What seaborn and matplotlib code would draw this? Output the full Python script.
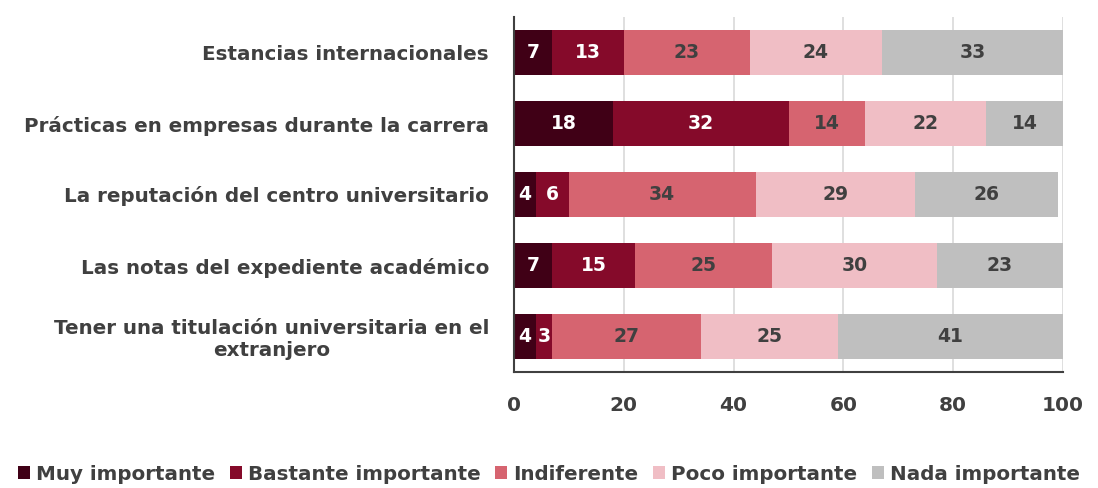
import matplotlib
matplotlib.use("Agg")
import matplotlib.pyplot as plt
import seaborn as sns
import pandas as pd
import numpy as np
from matplotlib.patches import Patch

categories = [
    "Estancias internacionales",
    "Prácticas en empresas durante la carrera",
    "La reputación del centro universitario",
    "Las notas del expediente académico",
    "Tener una titulación universitaria en el\nextranjero",
]
series = ["Muy importante", "Bastante importante", "Indiferente",
          "Poco importante", "Nada importante"]
muy = [7, 18, 4, 7, 4]
bastante = [13, 32, 6, 15, 3]
indiferente = [23, 14, 34, 25, 27]
poco = [24, 22, 29, 30, 25]
nada = [33, 14, 26, 23, 41]
xticks = [0, 20, 40, 60, 80, 100]

colors = ["#400016", "#850a2a", "#d66470", "#f0bec5", "#bfbfbf"]
text_colors = ["white", "white", "#404040", "#404040", "#404040"]
dark = "#404040"

sns.set_theme(style="white")
plt.rcParams["font.family"] = ["DejaVu Sans"]
plt.rcParams["font.weight"] = "bold"

df = pd.DataFrame({"categoria": categories, series[0]: muy, series[1]: bastante,
                   series[2]: indiferente, series[3]: poco, series[4]: nada})
vals = df[series].to_numpy(dtype=float)
cum = np.cumsum(vals, axis=1)

fig = plt.figure(figsize=(10.98, 4.88), dpi=100)
ax = fig.add_axes([514 / 1098, 1 - 372 / 488, (1063 - 514) / 1098, (372 - 17) / 488])

# Stacked bars: draw cumulative totals from the outermost layer inwards
for i in reversed(range(len(series))):
    sns.barplot(x=cum[:, i], y=df["categoria"], color=colors[i], orient="h",
                width=0.64, ax=ax, saturation=1, linewidth=0, zorder=2)

for r in range(len(categories)):
    for i in range(len(series)):
        center = cum[r, i] - vals[r, i] / 2
        ax.text(center, r, f"{int(vals[r, i])}", ha="center", va="center",
                color=text_colors[i], fontsize=13.5, fontweight="bold", zorder=3)

ax.set_xlim(0, 100)
ax.set_ylim(len(categories) - 0.5, -0.5)
ax.set_xticks(xticks)
ax.set_xticklabels([str(t) for t in xticks])
ax.xaxis.grid(True, color="#d9d9d9", linewidth=1.2, zorder=0)
ax.set_axisbelow(True)
ax.set_xlabel("")
ax.set_ylabel("")
ax.tick_params(axis="both", length=0, colors=dark)
ax.tick_params(axis="x", pad=17, labelsize=14.5)
ax.tick_params(axis="y", pad=18, labelsize=14.3)
for lab in ax.get_yticklabels() + ax.get_xticklabels():
    lab.set_fontweight("bold")
    lab.set_color(dark)
for lab in ax.get_yticklabels():
    lab.set_horizontalalignment("right")
    lab.set_multialignment("center")
for s in ["top", "right"]:
    ax.spines[s].set_visible(False)
for s in ["left", "bottom"]:
    ax.spines[s].set_color(dark)
    ax.spines[s].set_linewidth(1.5)

handles = [Patch(facecolor=c, edgecolor="none", label=s) for c, s in zip(colors, series)]
fig.legend(handles=handles, loc="center", bbox_to_anchor=(0.5, 1 - 474 / 488), ncol=5,
           frameon=False, handlelength=0.6, handleheight=0.6,
           handletextpad=0.3, columnspacing=0.75, labelcolor=dark,
           prop={"weight": "bold", "size": 14.3})

fig.savefig("out.png", dpi=100)
